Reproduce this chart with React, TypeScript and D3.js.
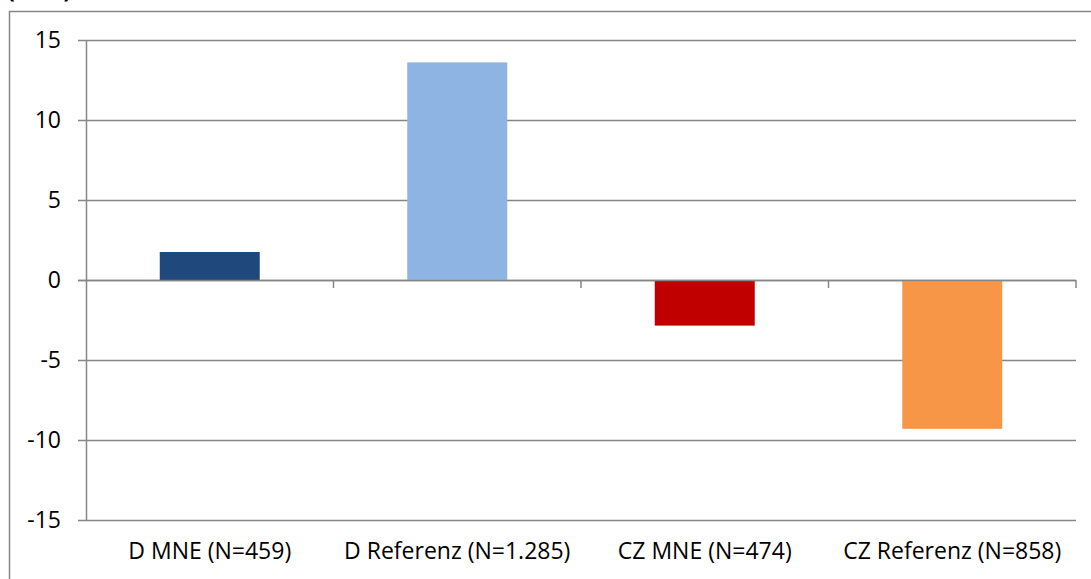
import React from "react";
import * as d3 from "d3";

const categories = ["D MNE (N=459)", "D Referenz (N=1.285)", "CZ MNE (N=474)", "CZ Referenz (N=858)"];
const values = [1.75, 13.6, -2.85, -9.3];
const colors = ["#1F497D", "#8EB4E3", "#C00000", "#F79646"];
const yTicks = [-15, -10, -5, 0, 5, 10, 15];
const titleText = "(in %)";

const W = 1091;
const H = 579;
const FONT = "'Open Sans', 'Liberation Sans', sans-serif";

export default function App() {
  const left = 86;
  const right = 1076;
  const x = d3.scaleBand<string>().domain(categories).range([left, right]).paddingInner(0.596).paddingOuter(0.298);
  const xb = d3.scaleBand<string>().domain(categories).range([left, right]);
  const y = d3.scaleLinear().domain([-15, 15]).range([520, 40]);
  const grid = "#868686";

  return (
    <svg width={W} height={H} style={{ position: "absolute", left: 0, top: 0, background: "#fff" }}>
      <rect x={9.5} y={11.5} width={W} height={H} fill="#fff" stroke={grid} strokeWidth={1.5} />
      <text x={7} y={-2} fontFamily={FONT} fontWeight="bold" fontSize={23} fill="#000">{titleText}</text>
      {yTicks.map((t) => (
        <g key={t}>
          <line x1={78} x2={right} y1={Math.round(y(t)) + 0.5} y2={Math.round(y(t)) + 0.5} stroke={grid} strokeWidth={1.5} />
          <text x={61} y={y(t) + 8} textAnchor="end" fontFamily={FONT} fontSize={23} fill="#000">{t}</text>
        </g>
      ))}
      <line x1={left + 0.5} x2={left + 0.5} y1={y(15)} y2={y(-15)} stroke={grid} strokeWidth={1.5} />
      {categories.map((c, i) => (
        <line key={"t" + i} x1={(xb(c) as number) + xb.bandwidth()} x2={(xb(c) as number) + xb.bandwidth()} y1={y(0)} y2={y(0) + 8} stroke={grid} strokeWidth={1.5} />
      ))}
      {categories.map((c, i) => (
        <rect key={c} x={x(c)} width={x.bandwidth()} y={y(Math.max(0, values[i]))} height={Math.abs(y(values[i]) - y(0))} fill={colors[i]} />
      ))}
      <line x1={78} x2={right} y1={Math.round(y(0)) + 0.5} y2={Math.round(y(0)) + 0.5} stroke={grid} strokeWidth={1.5} />
      {categories.map((c) => (
        <text key={"l" + c} x={(xb(c) as number) + xb.bandwidth() / 2} y={559} textAnchor="middle" fontFamily={FONT} fontSize={23} fill="#000">{c}</text>
      ))}
    </svg>
  );
}
